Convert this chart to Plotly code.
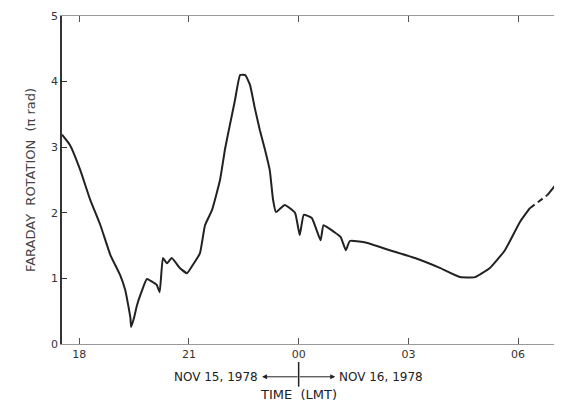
import plotly.graph_objects as go

# hours since 00 LMT Nov 15, 1978
hours = [17.53, 17.75, 18.03, 18.30, 18.58, 18.85, 19.12, 19.26, 19.40, 19.42, 19.50, 19.58,
         19.70, 19.85, 19.99, 20.12, 20.20, 20.29, 20.40, 20.53, 20.75, 20.95, 21.10, 21.30,
         21.44, 21.63, 21.85, 21.99, 22.12, 22.26, 22.40, 22.54, 22.67, 22.80, 22.94, 23.08,
         23.21, 23.30, 23.38, 23.62, 23.90, 24.03, 24.14, 24.36, 24.60, 24.68, 24.99, 25.15,
         25.29, 25.40, 25.80, 26.49, 27.18, 27.86, 28.41, 28.82, 29.23, 29.64, 30.05, 30.32]
rotation = [3.19, 3.03, 2.65, 2.20, 1.81, 1.36, 1.05, 0.82, 0.40, 0.26, 0.40, 0.59,
            0.79, 0.99, 0.95, 0.90, 0.79, 1.31, 1.23, 1.31, 1.16, 1.08, 1.20, 1.38,
            1.81, 2.04, 2.50, 2.98, 3.34, 3.72, 4.10, 4.10, 3.95, 3.60, 3.26, 2.96,
            2.65, 2.20, 2.01, 2.12, 2.00, 1.66, 1.97, 1.92, 1.58, 1.81, 1.70, 1.63,
            1.43, 1.57, 1.55, 1.43, 1.31, 1.16, 1.02, 1.02, 1.16, 1.43, 1.86, 2.07]
gap_hours = [30.32, 30.80]
gap_rotation = [2.07, 2.27]
tail_hours = [30.80, 31.18]
tail_rotation = [2.27, 2.53]

tick_vals = [18, 21, 24, 27, 30]
tick_text = ["18", "21", "00", "03", "06"]

fig = go.Figure()
line = dict(color="#222", width=2, shape="spline", smoothing=0.4)
fig.add_trace(go.Scatter(x=hours, y=rotation, mode="lines", line=line))
fig.add_trace(go.Scatter(x=gap_hours, y=gap_rotation, mode="lines",
                         line=dict(color="#222", width=2, dash="6px,4px")))
fig.add_trace(go.Scatter(x=tail_hours, y=tail_rotation, mode="lines", line=dict(color="#222", width=2)))

font = dict(family="DejaVu Sans", color="#222")
fig.update_layout(
    width=554, height=396, showlegend=False,
    paper_bgcolor="white", plot_bgcolor="white",
    margin=dict(l=54, r=0, t=8, b=60),
    font=dict(family="DejaVu Sans", size=11, color="#333"),
    xaxis=dict(range=[17.53, 31.2], tickvals=tick_vals, ticktext=tick_text,
               showgrid=False, zeroline=False, showline=True, linecolor="#999",
               ticks="inside", ticklen=6, tickcolor="#555", mirror="ticks"),
    yaxis=dict(range=[0, 5], dtick=1, showgrid=False, zeroline=False,
               showline=True, linecolor="#333", linewidth=1.5,
               ticks="inside", ticklen=5, tickcolor="#333",
               title=dict(text="FARADAY  ROTATION  (π rad)", font=dict(size=13, color="#444"), standoff=12)),
)
arrow_y = -0.1
fig.add_annotation(x=22.95, y=arrow_y, xref="x", yref="paper", text="NOV 15, 1978",
                   showarrow=False, xanchor="right", yanchor="middle", font=dict(size=12, **font))
fig.add_annotation(x=25.05, y=arrow_y, xref="x", yref="paper", text="NOV 16, 1978",
                   showarrow=False, xanchor="left", yanchor="middle", font=dict(size=12, **font))
fig.add_annotation(x=24, y=-0.155, xref="x", yref="paper", text="TIME  (LMT)", showarrow=False,
                   yanchor="middle", font=dict(size=13, **font))
fig.add_annotation(x=23.0, y=arrow_y, xref="x", yref="paper", ax=37, ay=0, text="",
                   showarrow=True, arrowhead=2, arrowwidth=1, arrowcolor="#222")
fig.add_annotation(x=25.0, y=arrow_y, xref="x", yref="paper", ax=-37, ay=0, text="",
                   showarrow=True, arrowhead=2, arrowwidth=1, arrowcolor="#222")
fig.add_shape(type="line", xref="x", yref="paper", x0=24, x1=24, y0=-0.055, y1=-0.13,
              line=dict(color="#222", width=1.5))
fig.write_html("out.html")
